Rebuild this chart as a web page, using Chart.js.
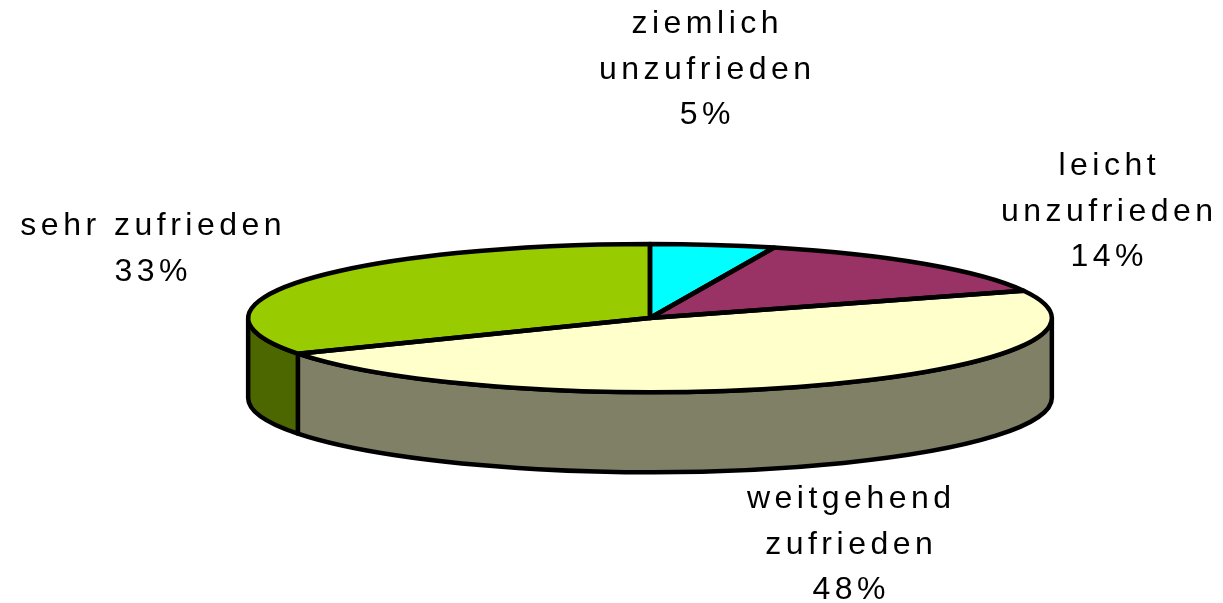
<!DOCTYPE html>
<html>
<head>
<meta charset="utf-8">
<script src="https://cdn.jsdelivr.net/npm/chart.js@4"></script>
<style>
  html, body { margin: 0; padding: 0; background: #fff; }
  #wrap { width: 1223px; height: 603px; }
</style>
</head>
<body>
<div id="wrap"><canvas id="pie"></canvas></div>
<script>
// Data
const labels = [["ziemlich", "unzufrieden"], ["leicht", "unzufrieden"], ["weitgehend", "zufrieden"], ["sehr zufrieden"]];
const values = [5, 14, 48, 33];
const topColors = ["#00FFFF", "#993366", "#FFFFCC", "#99CC00"];
const sideColors = ["#008080", "#4C1A33", "#808066", "#4C6600"];

// label anchors: center x, first baseline
const labelPos = [[705, 33], [1107, 175], [849, 508], [151, 235]];

// 3d look
const stretchX = 1.41;   // ellipse rx = R * stretchX
const stretchY = 0.26;   // ellipse ry = R * stretchY
const depth = 80;

function ellipseGeom(chart) {
    const arc = chart.getDatasetMeta(0).data[0];
    return { cx: arc.x, cy: arc.y, rx: arc.outerRadius * stretchX, ry: arc.outerRadius * stretchY };
}

const pie3d = {
    id: "pie3d",
    beforeDatasetsDraw(chart) {
        const ctx = chart.ctx;
        const g = ellipseGeom(chart);
        const arcs = chart.getDatasetMeta(0).data;

        // outer walls (front half only)
        ctx.save();
        ctx.lineWidth = 4.5;
        ctx.lineJoin = "round";
        ctx.strokeStyle = "#000";
        arcs.forEach((arc, i) => {
            const s = Math.max(arc.startAngle, 0);
            const e = Math.min(arc.endAngle, Math.PI);
            if (e <= s) return;
            ctx.beginPath();
            ctx.ellipse(g.cx, g.cy, g.rx, g.ry, 0, s, e);
            ctx.ellipse(g.cx, g.cy + depth, g.rx, g.ry, 0, e, s, true);
            ctx.closePath();
            ctx.fillStyle = sideColors[i];
            ctx.fill();
            ctx.stroke();
        });
        ctx.restore();

        // squash the top face
        ctx.save();
        ctx.translate(g.cx, g.cy);
        ctx.scale(stretchX, stretchY);
        ctx.translate(-g.cx, -g.cy);
    },
    afterDatasetsDraw(chart) {
        const ctx = chart.ctx;
        ctx.restore();
        const g = ellipseGeom(chart);
        const arcs = chart.getDatasetMeta(0).data;

        ctx.save();
        ctx.lineWidth = 4.5;
        ctx.lineJoin = "round";
        ctx.strokeStyle = "#000";
        arcs.forEach(arc => {
            ctx.beginPath();
            ctx.moveTo(g.cx, g.cy);
            ctx.ellipse(g.cx, g.cy, g.rx, g.ry, 0, arc.startAngle, arc.endAngle);
            ctx.closePath();
            ctx.stroke();
        });
        ctx.restore();
    },
    afterDraw(chart) {
        const ctx = chart.ctx;
        const spacing = 4.5;
        ctx.save();
        ctx.font = '32px "Liberation Sans", Arial, sans-serif';
        ctx.letterSpacing = spacing + "px";
        ctx.fillStyle = "#000";
        ctx.textAlign = "center";
        ctx.textBaseline = "alphabetic";
        chart.data.labels.forEach((lab, i) => {
            const lines = [].concat(lab, chart.data.datasets[0].data[i] + "%");
            const [x, y] = labelPos[i];
            lines.forEach((t, j) => ctx.fillText(t, x + spacing / 2, y + j * 45.5));
        });
        ctx.restore();
    }
};

new Chart(document.getElementById("pie"), {
    type: "pie",
    data: {
        labels: labels,
        datasets: [{
            data: values,
            backgroundColor: topColors,
            borderWidth: 0,
            clip: false
        }]
    },
    options: {
        responsive: true,
        maintainAspectRatio: false,
        animation: false,
        events: [],
        layout: { padding: { left: 77, right: 0, top: 33, bottom: 0 } },
        plugins: {
            legend: { display: false },
            tooltip: { enabled: false }
        }
    },
    plugins: [pie3d]
});
</script>
</body>
</html>
